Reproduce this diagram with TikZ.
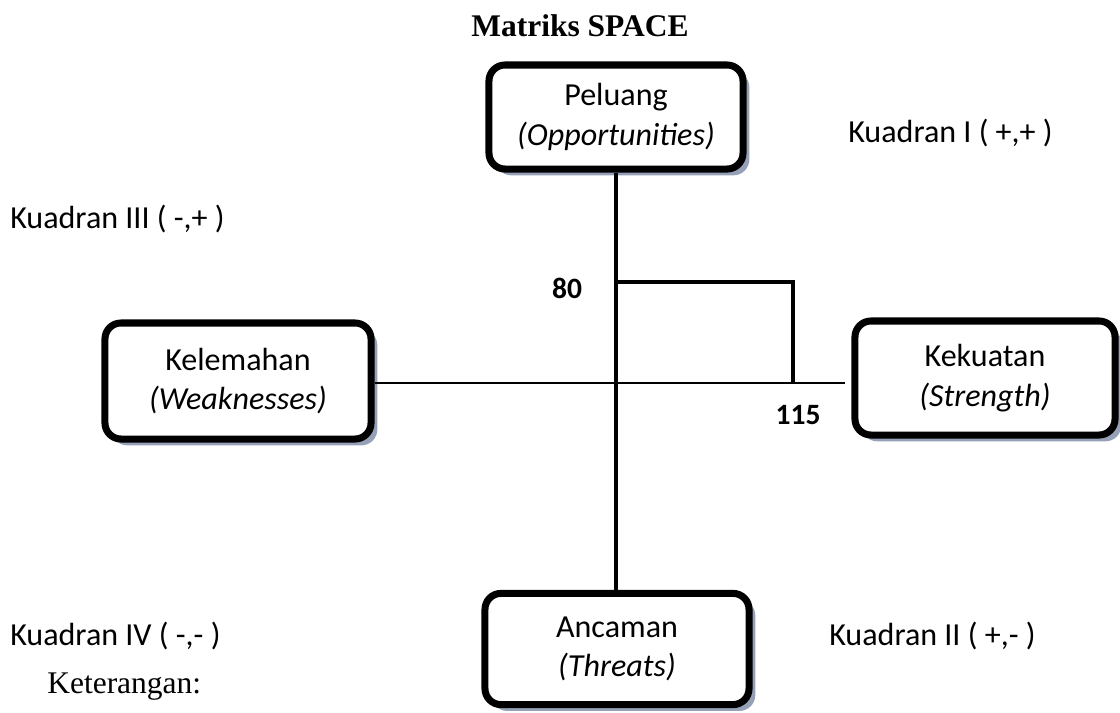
\documentclass[tikz,border=0pt]{standalone}
\usepackage{fontspec}
\setmainfont{Liberation Serif}
\newfontfamily\calibri{Carlito}
\usetikzlibrary{shadows}
\definecolor{shadowblue}{RGB}{150,160,182}

\begin{document}
\begin{tikzpicture}[
    x=0.025cm, y=-0.025cm,
    box/.style={rectangle, draw, line width=5pt, rounded corners=0.4cm, fill=white,
        align=center, font=\calibri\fontsize{22.8}{28}\selectfont,
        drop shadow={shadow xshift=4.5pt, shadow yshift=-4.5pt, fill=shadowblue, opacity=1}},
    axis/.style={draw, line width=2.6pt},
    label/.style={font=\calibri\fontsize{22.8}{26}\selectfont, anchor=west, inner sep=0pt},
    value/.style={font=\calibri\bfseries\fontsize{21}{25}\selectfont, inner sep=0pt}
]
    \useasboundingbox (0,0) rectangle (1120,712);

    % Title
    \node[font=\bfseries\fontsize{22.4}{26}\selectfont] (title) at (580,26) {Matriks SPACE};

    % Four boxes
    \node[box, minimum width=6.35cm, minimum height=2.6cm] (peluang) at (616,117)
        {Peluang \\ \textit{(Opportunities)}};
    \node[box, minimum width=6.65cm, minimum height=2.9cm] (kelemahan) at (238,381)
        {Kelemahan \\ \textit{(Weaknesses)}};
    \node[box, minimum width=6.5cm, minimum height=2.85cm] (kekuatan) at (985,378)
        {Kekuatan \\ \textit{(Strength)}};
    \node[box, minimum width=6.6cm, minimum height=2.78cm] (ancaman) at (617,649)
        {Ancaman \\ \textit{(Threats)}};

    % Axes
    \coordinate (xend) at (845,383);
    \draw[axis] (peluang.south -| 616,0) -- (ancaman.north -| 616,0);
    \draw[line width=1pt] (kelemahan.east |- xend) -- (xend);

    % Position of the point
    \coordinate (top) at (616,282);
    \coordinate (corner) at (793,282);
    \coordinate (foot) at (793,383);
    \draw[axis] (top) -- (corner) -- (foot);
    \node[value] (vy) at (567,288) {80};
    \node[value] (vx) at (798,415) {115};

    % Quadrant labels
    \foreach \x/\y/\name/\txt in {848/133/q1/{Kuadran I ( +,+ )}, 829/636/q2/{Kuadran II ( +,- )},
        10/219/q3/{Kuadran III ( -,+ )}, 10/636/q4/{Kuadran IV ( -,- )}} {
        \node[label] (\name) at (\x,\y) {\txt};
    }

    \node[font=\fontsize{22.4}{26}\selectfont, anchor=west, inner sep=0pt] (ket) at (47,687) {Keterangan:};

\end{tikzpicture}
\end{document}
